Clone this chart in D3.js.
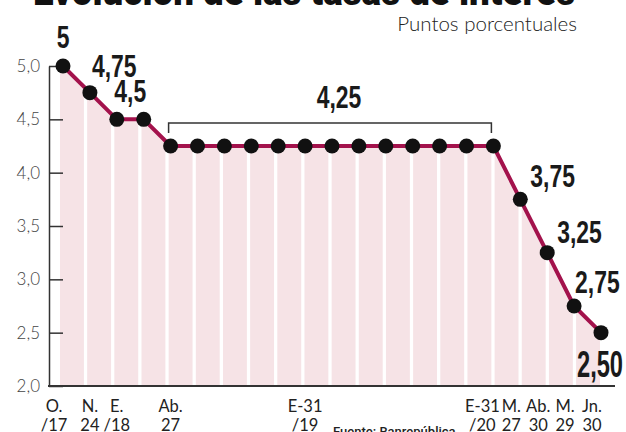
<!DOCTYPE html>
<meta charset="utf-8" />
<head>
<style>
  body { margin: 0; background: #fff; }
  svg { display: block; }
</style>
</head>
<script src="https://cdn.jsdelivr.net/npm/d3@7"></script>
<div id="chart"></div>
<script>

// tasa de intervención, puntos porcentuales
const rates = [5, 4.75, 4.5, 4.5, 4.25, 4.25, 4.25, 4.25, 4.25, 4.25, 4.25, 4.25, 4.25,
               4.25, 4.25, 4.25, 4.25, 3.75, 3.25, 2.75, 2.5];
const dateTop = ["O.", "N.", "E.", "", "Ab.", "", "", "", "", "E-31", "", "", "", "", "", "",
                 "E-31", "M.", "Ab.", "M.", "Jn."];
const dateBottom = ["/17", "24", "/18", "", "27", "", "", "", "", "/19", "", "", "", "", "", "",
                    "/20", "27", "30", "29", "30"];
const yTicks = [2.0, 2.5, 3.0, 3.5, 4.0, 4.5, 5.0];

const title = "Evolución de las tasas de interés";
const subtitle = "Puntos porcentuales";
const source = "Fuente: Banrepública";

const W = 626, H = 432;
const svg = d3.select("#chart").append("svg")
    .attr("width", W)
    .attr("height", H);

const x = d3.scaleLinear().domain([0, rates.length - 1]).range([63, 601]);
const y = d3.scaleLinear().domain([2, 5]).range([386, 66]);
const bars = d3.scaleBand()
    .domain(d3.range(rates.length - 1))
    .range([60, 600])
    .paddingInner(0.12)
    .paddingOuter(0);

const comma = v => String(v).replace(".", ",");

// title, cut by the top edge as in the source
svg.append("text")
    .attr("x", 33).attr("y", 5)
    .attr("textLength", 542).attr("lengthAdjust", "spacingAndGlyphs")
    .style("font-family", "Roboto, sans-serif")
    .style("font-weight", 900)
    .style("font-size", "38px")
    .attr("fill", "#111")
    .text(title);

svg.append("text")
    .attr("x", 577).attr("y", 31)
    .attr("text-anchor", "end")
    .style("font-family", "Lato, sans-serif")
    .style("font-weight", 300)
    .style("font-size", "20.5px")
    .attr("fill", "#222")
    .text(subtitle);

// pink columns under the line
const pts = rates.map((v, i) => [x(i), y(v)]);
const areaPts = [[bars.range()[0], y(rates[0])], ...pts];
const area = d3.area().x(d => d[0]).y0(y(2)).y1(d => d[1]);

svg.append("clipPath").attr("id", "under")
    .append("path").attr("d", area(areaPts));

svg.append("g")
    .attr("clip-path", "url(#under)")
    .selectAll("rect")
    .data(d3.range(rates.length - 1))
    .join("rect")
    .attr("x", d => bars(d))
    .attr("width", bars.bandwidth())
    .attr("y", y(5) - 10)
    .attr("height", y(2) - y(5) + 10)
    .attr("fill", "#f6e3e6");

// y axis
const yAxis = svg.append("g")
    .attr("transform", "translate(49,0)")
    .call(d3.axisLeft(y).tickValues(yTicks).tickSize(-14).tickSizeOuter(0).tickPadding(9)
        .tickFormat(d => d.toFixed(1).replace(".", ",")));
yAxis.select(".domain").attr("stroke", "#333").attr("stroke-width", 1.5);
yAxis.selectAll(".tick line").attr("stroke", "#333").attr("stroke-width", 1.5);
yAxis.selectAll(".tick text")
    .style("font-family", "Lato, sans-serif")
    .style("font-weight", 300)
    .style("font-size", "17px")
    .attr("fill", "#444");

// baseline
svg.append("line")
    .attr("x1", 48).attr("x2", 615)
    .attr("y1", y(2)).attr("y2", y(2))
    .attr("stroke", "#333").attr("stroke-width", 2.2);

// line + dots
svg.append("path")
    .attr("d", d3.line()(pts))
    .attr("fill", "none")
    .attr("stroke", "#a3124c")
    .attr("stroke-width", 4)
    .attr("stroke-linejoin", "round");

svg.append("g").selectAll("circle")
    .data(rates)
    .join("circle")
    .attr("cx", (d, i) => x(i))
    .attr("cy", d => y(d))
    .attr("r", 7.5)
    .attr("fill", "#111");

// bracket over the 4,25 plateau
const b0 = x(4) - 2, b1 = x(16) - 2, by = y(4.25) - 23;
svg.append("path")
    .attr("d", `M${b0},${by + 10}V${by}H${b1}V${by + 10}`)
    .attr("fill", "none")
    .attr("stroke", "#333")
    .attr("stroke-width", 1.5);

// value labels
const annots = [
    { i: 0, dx: 0, dy: -18, anchor: "middle" },
    { i: 1, dx: 2, dy: -16, anchor: "start" },
    { i: 2, dx: 13.5, dy: -17, anchor: "middle" },
    { i: 10, dx: 7, dy: -38, anchor: "middle" },
    { i: 17, dx: 10, dy: -12, anchor: "start" },
    { i: 18, dx: 10, dy: -10, anchor: "start" },
    { i: 19, dx: 1, dy: -13, anchor: "start" },
    { i: 20, dx: -1, dy: 44, anchor: "middle", big: true }
];

svg.append("g").selectAll("text")
    .data(annots)
    .join("text")
    .attr("transform", d => `translate(${x(d.i) + d.dx},${y(rates[d.i]) + d.dy}) scale(${d.big ? 0.64 : 0.74},1)`)
    .attr("text-anchor", d => d.anchor)
    .style("font-family", "'Liberation Sans Narrow', 'Arial Narrow', sans-serif")
    .style("font-weight", 700)
    .style("font-size", d => d.big ? "37px" : "31px")
    .attr("fill", "#1a1a1a")
    .text(d => d.i === 20 ? rates[d.i].toFixed(2).replace(".", ",") : comma(rates[d.i]));

// date labels
const shift = i => i === 0 ? -9 : i === 16 ? -11 : i > 16 ? -9 : 0;
const dates = svg.append("g").selectAll("text")
    .data(rates.map((d, i) => i).filter(i => dateTop[i] !== ""))
    .join("text")
    .attr("text-anchor", "middle")
    .style("font-family", "Lato, sans-serif")
    .style("font-size", "16.5px")
    .attr("fill", "#222");
dates.append("tspan")
    .attr("x", i => x(i) + shift(i)).attr("y", 412)
    .text(i => dateTop[i]);
dates.append("tspan")
    .attr("x", i => x(i) + shift(i)).attr("y", 431)
    .text(i => dateBottom[i]);

svg.append("text")
    .attr("x", 333).attr("y", 436)
    .style("font-family", "Roboto, sans-serif")
    .style("font-weight", 500)
    .style("font-size", "13px")
    .attr("fill", "#222")
    .text(source);

</script>
